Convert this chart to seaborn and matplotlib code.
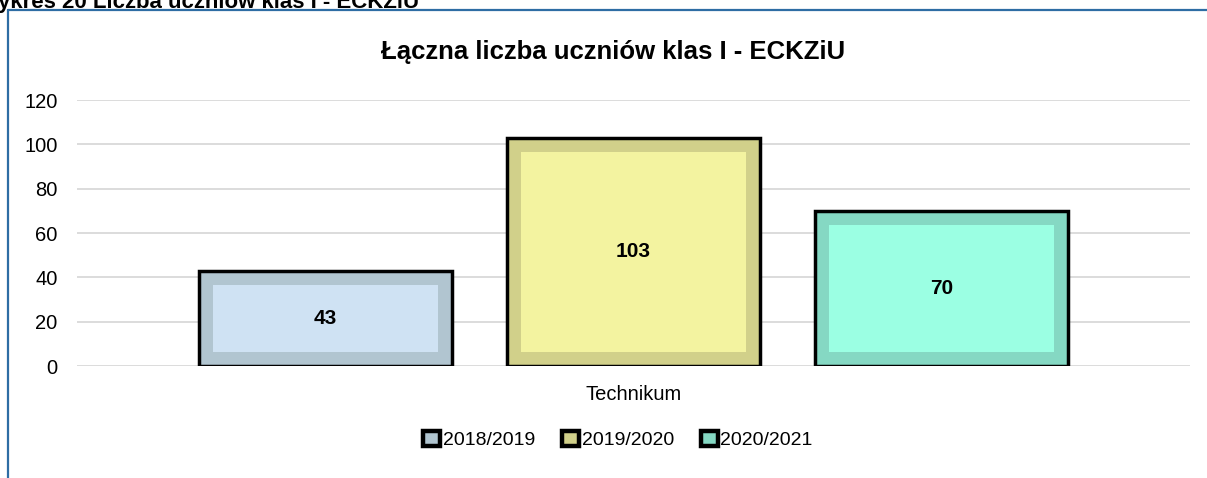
import matplotlib
matplotlib.use("Agg")
import matplotlib.pyplot as plt
from matplotlib.lines import Line2D
from matplotlib.patches import Rectangle
import seaborn as sns
import pandas as pd

# dane
category = ["Technikum"]
years = ["2018/2019", "2019/2020", "2020/2021"]
values = [43, 103, 70]
outer_colors = ["#B1C5D0", "#D1D08A", "#85D8C3"]
inner_colors = ["#CFE2F3", "#F3F3A0", "#9BFFE3"]

df = pd.DataFrame({"typ": category * len(years), "rok": years, "liczba": values})

sns.set_theme(style="white")
plt.rcParams['font.family'] = ['Liberation Sans', 'DejaVu Sans']
plt.rcParams['text.color'] = 'black'

W, H = 1207, 478
fig = plt.figure(figsize=(W / 100, H / 100), dpi=100)
ax = fig.add_axes([77 / W, 1 - 366 / H, (1190 - 77) / W, (366 - 100) / H])

sns.barplot(data=df, x="typ", y="liczba", hue="rok", palette=outer_colors,
            saturation=1, width=0.83, gap=0.176, edgecolor="black",
            linewidth=2.5, legend=False, ax=ax, zorder=2)

ax.set_ylim(0, 120)
ax.set_xlim(-0.5, 0.5)
ax.set_yticks(range(0, 121, 20))
ax.yaxis.grid(True, color="#D9D9D9", linewidth=1.3)
ax.set_axisbelow(True)
for s in ax.spines.values():
    s.set_visible(False)
ax.set_xlabel("")
ax.set_ylabel("")
ax.tick_params(axis="y", labelsize=14.5, length=0, pad=14, labelcolor="black")
ax.tick_params(axis="x", labelsize=14.5, length=0, pad=14, labelcolor="black")

# wewnetrzny "bevel"
inv = ax.transData.inverted()
x0, y0 = inv.transform((0, 0))
x1, y1 = inv.transform((14, 14))
dx, dy = x1 - x0, y1 - y0
for p, c in zip(ax.patches, inner_colors):
    ax.add_patch(Rectangle((p.get_x() + dx, dy), p.get_width() - 2 * dx,
                           p.get_height() - 2 * dy, facecolor=c,
                           linewidth=0, zorder=2.5))

for cont in ax.containers:
    labels = ax.bar_label(cont, label_type="center", fontsize=15,
                          fontweight="bold", color="black")
    for t in labels:
        t.set_zorder(4)

fig.text(613.5 / W, 1 - 52 / H, "Łączna liczba uczniów klas I - ECKZiU",
         ha="center", va="center", fontsize=18.5, fontweight="bold",
         color="black")

fig.text(-2 / W, 1 - 8 / H, "ykres 20 Liczba uczniów klas I - ECKZiU",
         ha="left", va="baseline", fontsize=16, fontweight="bold",
         color="black")

handles = [Rectangle((0, 0), 1, 1, facecolor=c, edgecolor="black", linewidth=3.2)
           for c in outer_colors]
fig.legend(handles, years, loc="center", bbox_to_anchor=(618 / W, 1 - 440 / H),
           ncol=3, frameon=False, fontsize=14, handlelength=0.85,
           handleheight=0.85, handletextpad=0.15, columnspacing=1.4)

frame = "#2E6DA4"
fig.add_artist(Line2D([8 / W, 1], [1 - 10 / H, 1 - 10 / H], color=frame, linewidth=1.6))
fig.add_artist(Line2D([8 / W, 8 / W], [1 - 10 / H, 0], color=frame, linewidth=1.6))

fig.savefig("out.png", dpi=100)
